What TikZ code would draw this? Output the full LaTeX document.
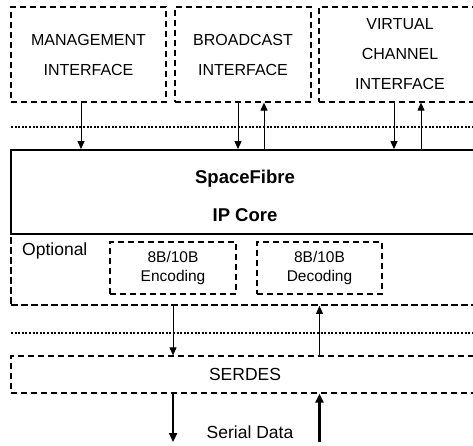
\documentclass[tikz,border=0pt]{standalone}
\usepackage{fontspec}
\setmainfont{Liberation Sans}
\usetikzlibrary{arrows.meta}

\begin{document}
\begin{tikzpicture}[
  x=1pt, y=-1pt,
  box/.style={draw, dash pattern=on 6pt off 4pt, line width=1.25pt, inner sep=0pt, align=center},
  toptext/.style={font=\fontsize{16}{30}\selectfont},
  smalltext/.style={font=\fontsize{15.5}{19}\selectfont},
  bus/.style={line width=2.2pt, dash pattern=on 2pt off 1.6pt},
  link/.style={line width=0.9pt, -{Triangle[length=8pt,width=7pt]}},
  serial/.style={line width=2.4pt, -{Triangle[length=9pt,width=8pt]}}
]
  \clip (0,0) rectangle (473,445);

  % interfaces
  \node[box, toptext, minimum width=155pt, minimum height=95pt] (mgmt) at (88.5,54.5) {MANAGEMENT\\INTERFACE};
  \node[box, toptext, minimum width=136pt, minimum height=95pt] (bcast) at (243,54.5) {BROADCAST\\INTERFACE};
  \node[box, toptext, minimum width=162pt, minimum height=95pt] (vc) at (400,54.5) {VIRTUAL\\CHANNEL\\INTERFACE};

  \draw[bus] (11,127) -- (480,127);

  % core
  \node[draw, line width=1.8pt, inner sep=0pt, minimum width=468pt, minimum height=84pt] (core) at (245,192) {};
  \node[font=\fontsize{18.5}{38}\selectfont\bfseries, align=center] (corelbl) at (245,196) {SpaceFibre\\IP Core};

  \node[box, line width=1.7pt, dash pattern=on 7pt off 3pt, minimum width=468pt, minimum height=71pt] (opt) at (245,269.5) {};
  \node[anchor=west, inner sep=0pt, font=\fontsize{17.5}{20}\selectfont] (optlbl) at (22,251) {Optional};
  \node[box, smalltext, minimum width=126pt, minimum height=52pt] (enc) at (173,268) {8B/10B\\Encoding};
  \node[box, smalltext, minimum width=125pt, minimum height=52pt] (dec) at (319.5,268) {8B/10B\\Decoding};

  \draw[bus] (11,333) -- (480,333);

  \node[box, font=\fontsize{17.5}{20}\selectfont, minimum width=468pt, minimum height=37pt] (serdes) at (245,374.5) {SERDES};

  \coordinate (txout) at (173,442);
  \coordinate (rxin) at (319.5,442);
  \node[font=\fontsize{17.5}{20}\selectfont] (seriallbl) at (250,432) {Serial Data};

  % connectors
  \draw[link] ([xshift=-7.5pt]mgmt.south) -- ([xshift=-7.5pt]mgmt.south |- core.north);
  \draw[link] ([xshift=-5pt]bcast.south) -- ([xshift=-5pt]bcast.south |- core.north);
  \draw[link] ([xshift=21pt]bcast.south |- core.north) -- ([xshift=21pt]bcast.south);
  \draw[link] ([xshift=-6pt]vc.south) -- ([xshift=-6pt]vc.south |- core.north);
  \draw[link] ([xshift=21pt]vc.south |- core.north) -- ([xshift=21pt]vc.south);
  \draw[link] (enc |- opt.south) -- (enc |- serdes.north);
  \draw[link] (dec |- serdes.north) -- (dec |- opt.south);
  \draw[serial] (enc |- serdes.south) -- (txout);
  \draw[serial] (rxin) -- (dec |- serdes.south);
\end{tikzpicture}
\end{document}
